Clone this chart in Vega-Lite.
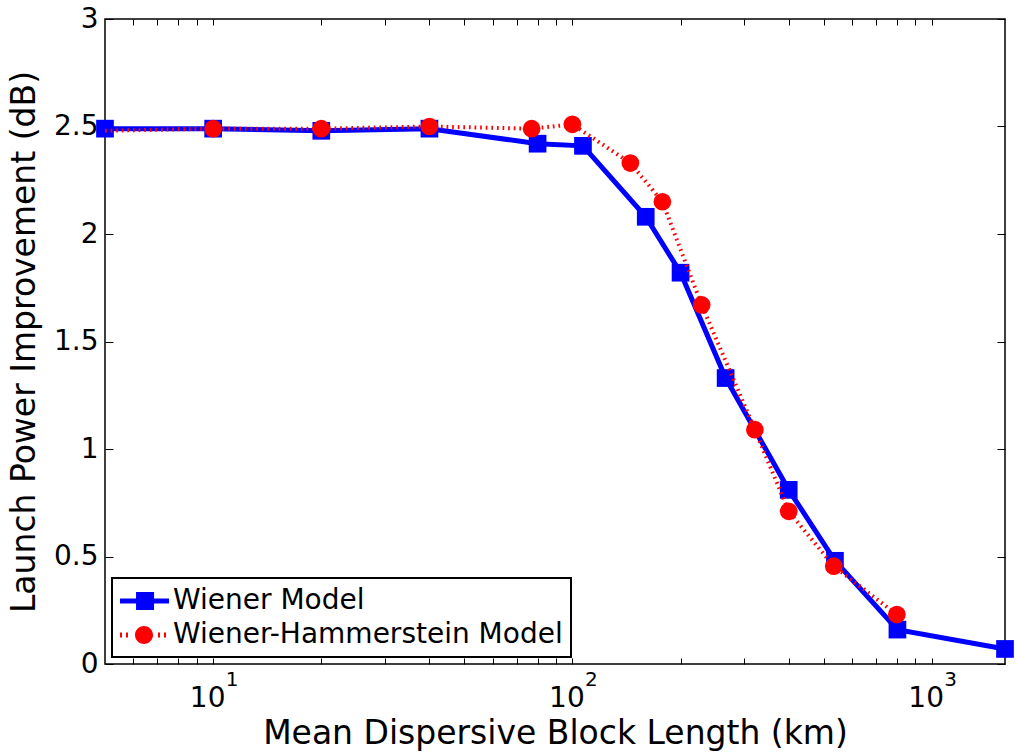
{
  "$schema": "https://vega.github.io/schema/vega-lite/v6.json",
  "autosize": "none",
  "width": 900,
  "height": 645,
  "padding": {"left": 105, "top": 19, "right": 11, "bottom": 90},
  "background": "white",
  "config": {
    "view": {"stroke": "black", "strokeWidth": 1.5},
    "font": "DejaVu Sans",
    "axis": {"grid": false, "domain": false, "tickColor": "black", "labelColor": "black", "titleColor": "black", "labelFont": "DejaVu Sans", "titleFont": "DejaVu Sans"},
    "legend": {"labelFont": "DejaVu Sans"}
  },
  "datasets": {
    "pts": [
      {"series": "Wiener Model", "x": 5, "y": 2.49},
      {"series": "Wiener Model", "x": 10, "y": 2.49},
      {"series": "Wiener Model", "x": 20, "y": 2.48},
      {"series": "Wiener Model", "x": 40, "y": 2.49},
      {"series": "Wiener Model", "x": 80, "y": 2.42},
      {"series": "Wiener Model", "x": 107, "y": 2.41},
      {"series": "Wiener Model", "x": 160, "y": 2.08},
      {"series": "Wiener Model", "x": 200, "y": 1.82},
      {"series": "Wiener Model", "x": 267, "y": 1.33},
      {"series": "Wiener Model", "x": 400, "y": 0.81},
      {"series": "Wiener Model", "x": 538, "y": 0.48},
      {"series": "Wiener Model", "x": 803, "y": 0.16},
      {"series": "Wiener Model", "x": 1600, "y": 0.07},
      {"series": "Wiener-Hammerstein Model", "x": 5, "y": 2.48},
      {"series": "Wiener-Hammerstein Model", "x": 10, "y": 2.49},
      {"series": "Wiener-Hammerstein Model", "x": 20, "y": 2.49},
      {"series": "Wiener-Hammerstein Model", "x": 40, "y": 2.50},
      {"series": "Wiener-Hammerstein Model", "x": 77, "y": 2.49},
      {"series": "Wiener-Hammerstein Model", "x": 100, "y": 2.51},
      {"series": "Wiener-Hammerstein Model", "x": 145, "y": 2.33},
      {"series": "Wiener-Hammerstein Model", "x": 178, "y": 2.15},
      {"series": "Wiener-Hammerstein Model", "x": 229, "y": 1.67},
      {"series": "Wiener-Hammerstein Model", "x": 322, "y": 1.09},
      {"series": "Wiener-Hammerstein Model", "x": 400, "y": 0.71},
      {"series": "Wiener-Hammerstein Model", "x": 534, "y": 0.455},
      {"series": "Wiener-Hammerstein Model", "x": 800, "y": 0.23}
    ],
    "exps": [
      {"x": 10, "e": "1"},
      {"x": 100, "e": "2"},
      {"x": 1000, "e": "3"}
    ]
  },
  "resolve": {"axis": {"x": "independent", "y": "independent"}},
  "layer": [
    {
      "data": {"name": "pts"},
      "transform": [{"filter": "datum.series == 'Wiener Model'"}],
      "mark": {"type": "line", "color": "#0000ff", "strokeWidth": 5},
      "encoding": {
        "x": {"field": "x", "type": "quantitative",
          "scale": {"type": "log", "domain": [5, 1600], "nice": false},
          "axis": {"orient": "bottom", "offset": -6, "tickSize": 6, "tickWidth": 1,
            "values": [6,7,8,9,10,20,30,40,50,60,70,80,90,100,200,300,400,500,600,700,800,900,1000],
            "labelExpr": "(datum.value == 10 || datum.value == 100 || datum.value == 1000) ? '10' : ''",
            "labelOverlap": false, "labelFlush": false, "labelFontSize": 28, "labelPadding": 20, "labelOffset": -6,
            "title": "Mean Dispersive Block Length (km)", "titleFontSize": 33, "titleFontWeight": "normal", "titlePadding": 5}},
        "y": {"field": "y", "type": "quantitative",
          "scale": {"domain": [0, 3], "nice": false, "zero": false},
          "axis": {"orient": "left", "offset": -8, "tickSize": 8, "tickWidth": 1,
            "values": [0, 0.5, 1, 1.5, 2, 2.5, 3], "format": "~g",
            "labelFontSize": 28, "labelFontWeight": "normal", "labelPadding": 7,
            "title": "Launch Power Improvement (dB)", "titleFontSize": 33, "titleFontWeight": "normal", "titlePadding": 12}}
      }
    },
    {
      "data": {"name": "pts"},
      "transform": [{"filter": "datum.series == 'Wiener Model'"}],
      "mark": {"type": "point", "shape": "square", "filled": true, "color": "#0000ff", "size": 313, "opacity": 1},
      "encoding": {
        "x": {"field": "x", "type": "quantitative",
          "axis": {"orient": "top", "offset": -6, "tickSize": 6, "tickWidth": 1, "labels": false, "title": null,
            "values": [6,7,8,9,10,20,30,40,50,60,70,80,90,100,200,300,400,500,600,700,800,900,1000]}},
        "y": {"field": "y", "type": "quantitative",
          "axis": {"orient": "right", "offset": -8, "tickSize": 8, "tickWidth": 1, "labels": false, "title": null,
            "values": [0, 0.5, 1, 1.5, 2, 2.5, 3]}}
      }
    },
    {
      "data": {"name": "pts"},
      "transform": [{"filter": "datum.series == 'Wiener-Hammerstein Model'"}],
      "mark": {"type": "line", "color": "#ff0000", "strokeWidth": 4, "strokeDash": [1.7, 3.9]},
      "encoding": {
        "x": {"field": "x", "type": "quantitative", "axis": null},
        "y": {"field": "y", "type": "quantitative", "axis": null}
      }
    },
    {
      "data": {"name": "pts"},
      "transform": [{"filter": "datum.series == 'Wiener-Hammerstein Model' && datum.x > 5"}],
      "mark": {"type": "point", "shape": "circle", "filled": true, "color": "#ff0000", "size": 314, "opacity": 1},
      "encoding": {
        "x": {"field": "x", "type": "quantitative", "axis": null},
        "y": {"field": "y", "type": "quantitative", "axis": null}
      }
    },
    {
      "data": {"name": "exps"},
      "mark": {"type": "text", "font": "DejaVu Sans", "fontSize": 20, "dx": 19, "dy": 16, "baseline": "middle", "align": "center", "color": "black"},
      "encoding": {
        "x": {"field": "x", "type": "quantitative", "axis": null},
        "y": {"datum": 0, "type": "quantitative", "axis": null},
        "text": {"field": "e"}
      }
    },
    {
      "data": {"name": "pts"},
      "transform": [{"filter": "false"}],
      "mark": {"type": "point", "filled": true},
      "encoding": {
        "x": {"field": "x", "type": "quantitative", "axis": null},
        "y": {"field": "y", "type": "quantitative", "axis": null},
        "color": {"field": "series", "type": "nominal",
          "scale": {"domain": ["Wiener Model", "Wiener-Hammerstein Model"], "range": ["#0000ff", "#ff0000"]},
          "legend": {"title": null, "orient": "bottom-left", "offset": 7, "padding": 8,
            "symbolSize": 900, "symbolStrokeWidth": 0, "symbolOpacity": 1,
            "labelFontSize": 28, "labelOffset": 23, "rowPadding": 5, "labelLimit": 600, "labelColor": "black",
            "strokeColor": "black", "fillColor": "white",
            "encode": {"legend": {"update": {"strokeWidth": {"value": 2}}}}}},
        "shape": {"field": "series", "type": "nominal",
          "scale": {"domain": ["Wiener Model", "Wiener-Hammerstein Model"],
            "range": [
              "M-1,-0.167H2.27V0.167H-1Z M0.07,-0.6H1.27V0.6H0.07Z",
              "M0,0A0.6,0.6 0 1,0 1.2,0A0.6,0.6 0 1,0 0,0Z M-1,-0.167H-0.867V0.167H-1Z M-0.6,-0.167H-0.467V0.167H-0.6Z M1.53,-0.167H1.667V0.167H1.53Z M1.93,-0.167H2.067V0.167H1.93Z"
            ]},
          "legend": {"title": null, "orient": "bottom-left", "offset": 7, "padding": 8,
            "symbolSize": 900, "symbolStrokeWidth": 0, "symbolOpacity": 1,
            "labelFontSize": 28, "labelOffset": 23, "rowPadding": 5, "labelLimit": 600, "labelColor": "black",
            "strokeColor": "black", "fillColor": "white",
            "encode": {"legend": {"update": {"strokeWidth": {"value": 2}}}}}}
      }
    }
  ]
}
